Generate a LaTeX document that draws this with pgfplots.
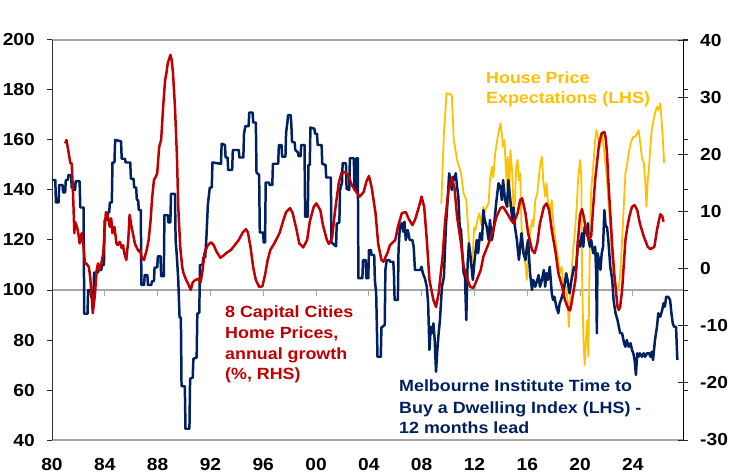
\documentclass[border=0pt]{standalone}
\usepackage{fontspec}
\setmainfont{Liberation Sans}[FakeStretch=1.1]
\usepackage{pgfplots}
\pgfplotsset{compat=1.18}
\definecolor{navy}{HTML}{002060}
\definecolor{cred}{HTML}{C00000}
\definecolor{cyel}{HTML}{FFC000}
\definecolor{gline}{HTML}{A6A6A6}
\begin{document}
\begin{tikzpicture}
% frame and the line at 100 (axis box is 631bp x 400bp at the origin)
\draw[gline, line width=1.3pt] (0,400bp) -- (631bp,400bp);
\draw[gline, line width=1.3pt] (0,0) -- (631bp,0);
\draw[gline, line width=1.3pt] (0,150bp) -- (631bp,150bp);
\foreach \k in {1,...,11} {\draw[gline, line width=1pt] (\k*52.8bp,150bp) -- ++(0,-6bp);}
\begin{axis}[
 scale only axis, width=631bp, height=400bp,
 xmin=1980, xmax=2027.98, ymin=40, ymax=200,
 axis line style={draw=none},
 xtick={1980,1984.015,1988.03,1992.046,1996.061,2000.076,2004.091,2008.106,2012.122,2016.137,2020.152,2024.167},
 xticklabels={\textbf{80},\textbf{84},\textbf{88},\textbf{92},\textbf{96},\textbf{00},\textbf{04},\textbf{08},\textbf{12},\textbf{16},\textbf{20},\textbf{24}},
 x tick style={draw=none},
 xticklabel style={anchor=north, inner sep=0pt, yshift=-13bp},
 ytick={40,60,80,100,120,140,160,180,200},
 yticklabels={\textbf{40},\textbf{60},\textbf{80},\textbf{100},\textbf{120},\textbf{140},\textbf{160},\textbf{180},\textbf{200}},
 y tick style={black!85, line width=1pt},
 tick align=outside, major tick length=5bp,
 yticklabel style={anchor=east, inner sep=0pt, xshift=-12bp},
 ticklabel style={font=\fontsize{17.5}{20}\selectfont\bfseries\boldmath},
]
% House price expectations (LHS)
\addplot[cyel, line width=1.8pt, line join=round] coordinates {
(2009.6,134.5)(2009.8,162.7)(2010.0,178.7)(2010.15,178.5)(2010.4,178)(2010.55,160)(2010.65,157)(2010.8,152)
(2011.1,146.7)(2011.3,138.7)(2011.5,136)(2011.7,120)(2011.85,109)(2012.0,115)(2012.1,125)(2012.2,124)
(2012.35,128)(2012.5,130.7)(2012.65,126)(2012.8,133.3)(2012.9,131)(2013.05,133.3)(2013.2,134.7)(2013.3,144)
(2013.45,149.3)(2013.55,145)(2013.7,154.7)(2013.85,160)(2014.0,164)(2014.1,166.7)(2014.2,162.7)(2014.3,157.3)
(2014.4,160)(2014.5,149.3)(2014.6,141.3)(2014.65,153.3)(2014.75,133.3)(2014.85,156)(2015.0,146.7)(2015.1,130.7)
(2015.2,136)(2015.3,149.3)(2015.4,152)(2015.5,144)(2015.6,146.7)(2015.7,125.3)(2015.85,117.3)(2016.0,110)
(2016.1,104)(2016.2,114.7)(2016.35,122.7)(2016.5,128)(2016.6,125.3)(2016.75,136)(2016.9,138.7)(2017.0,144)
(2017.1,149.3)(2017.25,153.3)(2017.35,144)(2017.5,137.3)(2017.6,142.7)(2017.7,136)(2017.85,130.7)(2018.0,136)
(2018.1,128)(2018.2,122.7)(2018.35,117.3)(2018.5,112)(2018.6,106.7)(2018.75,109.3)(2018.9,101.3)(2019.0,98.7)
(2019.1,101.3)(2019.2,96)(2019.3,85.3)(2019.4,96)(2019.5,106.7)(2019.6,114.7)(2019.75,122.7)(2019.9,133.3)
(2020.0,144)(2020.15,152)(2020.25,145)(2020.3,106.7)(2020.4,81.3)(2020.5,70)(2020.6,80)(2020.7,88)
(2020.78,73.3)(2020.9,120)(2021.0,140)(2021.15,149.3)(2021.3,160)(2021.4,164)(2021.55,160)(2021.7,157.3)
(2021.8,162.7)(2021.9,160)(2022.05,152)(2022.2,144)(2022.3,136)(2022.45,125.3)(2022.6,112)(2022.7,106)
(2022.85,102)(2023.0,100)(2023.1,101)(2023.2,106)(2023.35,120)(2023.5,136)(2023.6,146.7)(2023.7,149.3)
(2023.85,154.7)(2024.0,158.7)(2024.1,160)(2024.2,161.3)(2024.35,161.3)(2024.5,162.7)(2024.6,164)(2024.7,160)
(2024.85,153.3)(2025.0,150.7)(2025.1,144)(2025.2,133.3)(2025.3,144)(2025.4,149.3)(2025.5,157.3)(2025.6,164)
(2025.7,166.7)(2025.85,170.7)(2026.0,173.3)(2026.1,172)(2026.25,174.7)(2026.35,168)(2026.45,160)(2026.55,150.7)
};
% Melbourne Institute index (LHS)
\addplot[navy, line width=2.5pt, line join=round] coordinates {
(1980.0,144)(1980.25,144)(1980.3,135)(1980.5,135)(1980.55,142)(1980.8,142)(1980.85,139)(1981.0,139)
(1981.05,144)(1981.2,144)(1981.25,146)(1981.45,146)(1981.5,141)(1981.75,140)(1981.8,143.5)(1982.1,143.5)
(1982.15,133)(1982.4,133)(1982.45,90.5)(1982.7,90.5)(1982.75,100)(1982.95,100)(1983.0,97)(1983.15,97)
(1983.2,107)(1983.5,107)(1983.55,108)(1983.75,108)(1983.8,110)(1983.95,110)(1984.0,128)(1984.2,128)
(1984.25,131)(1984.35,131)(1984.4,135)(1984.55,135)(1984.6,151)(1984.75,151)(1984.8,160)(1985.25,159.5)
(1985.3,152.5)(1985.55,152.5)(1985.6,151)(1985.95,151)(1986.0,144.5)(1986.2,144.5)(1986.25,141)(1986.4,141)
(1986.45,136)(1986.55,136)(1986.6,132)(1986.75,132)(1986.8,102)(1987.0,102)(1987.05,106)(1987.25,106)
(1987.3,102)(1987.55,102)(1987.6,103.5)(1987.75,103.5)(1987.8,109)(1988.0,109)(1988.05,113.5)(1988.25,113.5)
(1988.3,105.5)(1988.5,105.5)(1988.55,130)(1988.8,130)(1988.85,127)(1989.0,127)(1989.05,138.5)(1989.35,138.5)
(1989.4,120)(1989.5,113)(1989.6,104)(1989.7,89)(1989.8,89)(1989.85,61.5)(1990.1,61.5)(1990.15,44.5)
(1990.45,44.5)(1990.5,64.5)(1990.7,65)(1990.75,72.5)(1991.0,73)(1991.05,90.5)(1991.2,91)(1991.25,110)
(1991.45,110)(1991.5,113)(1991.65,113)(1991.75,122)(1991.85,134)(1992.0,141)(1992.15,141)(1992.2,151)
(1992.85,150.5)(1992.9,158.5)(1993.15,158)(1993.2,153)(1993.35,153)(1993.4,148)(1993.7,148)(1993.75,156)
(1994.2,156)(1994.25,153)(1994.55,153)(1994.6,162.5)(1994.7,165.5)(1994.95,165.5)(1995.0,171)(1995.25,171)
(1995.3,167)(1995.5,167)(1995.55,147)(1995.75,146)(1995.8,123)(1996.05,123)(1996.1,119)(1996.2,119)
(1996.25,143)(1996.5,143)(1996.55,142)(1996.75,142)(1996.8,150.5)(1997.2,150.5)(1997.25,158)(1997.45,158)
(1997.5,153.3)(1997.75,153.3)(1997.8,163)(1997.9,167)(1997.95,170)(1998.15,170)(1998.2,166)(1998.25,159.3)
(1998.45,159)(1998.5,156)(1998.7,155)(1998.75,153.5)(1998.9,153.5)(1998.95,158)(1999.2,158)(1999.25,129.3)
(1999.45,129.3)(1999.5,150)(1999.6,150)(1999.65,165)(1999.95,164.5)(2000.0,162.5)(2000.15,162.5)(2000.2,158)
(2000.5,158)(2000.55,150.5)(2000.8,150)(2000.85,145)(2001.2,145)(2001.25,119)(2001.6,117.5)(2001.65,126.5)
(2001.85,127)(2001.9,140)(2002.05,143)(2002.1,150.7)(2002.35,150.7)(2002.4,140.5)(2002.6,140)(2002.65,152.7)
(2002.95,152.7)(2003.0,140)(2003.1,140)(2003.15,152.7)(2003.25,152.7)(2003.3,104.7)(2003.6,104.7)(2003.65,112)
(2003.85,112)(2003.9,104.7)(2004.05,104.7)(2004.1,116)(2004.25,116)(2004.3,114)(2004.5,114)(2004.55,104)
(2004.65,98.7)(2004.75,73.3)(2005.0,73.3)(2005.05,85)(2005.3,86)(2005.35,108)(2005.45,112)(2005.65,112)
(2005.7,111.3)(2005.95,111.3)(2006.0,106.7)(2006.05,96)(2006.3,96)(2006.35,116)(2006.45,125.3)(2006.6,126.7)
(2006.7,123.3)(2006.8,127.3)(2006.9,120)(2007.05,124)(2007.2,120)(2007.4,120)(2007.5,117.3)(2007.6,108)
(2008.0,108)(2008.1,109.3)(2008.2,106.7)(2008.35,104.7)(2008.5,101.3)(2008.6,94.7)(2008.7,76)(2008.8,85.3)
(2008.9,82.7)(2009.0,86.7)(2009.1,80)(2009.2,67.3)(2009.3,76)(2009.4,82.7)(2009.5,88)(2009.65,101.3)
(2009.8,105.3)(2009.95,125.3)(2010.1,137.3)(2010.2,146.7)(2010.3,144)(2010.4,140)(2010.5,145.3)(2010.6,144)
(2010.7,146.7)(2010.8,141.3)(2010.9,137.3)(2011.0,125.3)(2011.1,124)(2011.2,114.7)(2011.3,106.7)(2011.4,105.3)
(2011.5,88)(2011.6,110)(2011.7,118.7)(2011.8,114.7)(2011.9,109.3)(2012.0,104)(2012.15,113)(2012.3,120)
(2012.4,114.7)(2012.55,122.7)(2012.7,120)(2012.8,132)(2012.9,128)(2013.05,125.3)(2013.2,120)(2013.3,128)
(2013.45,120)(2013.6,125)(2013.7,130.7)(2013.8,136)(2013.95,142.7)(2014.1,141.3)(2014.2,136)(2014.3,144)
(2014.45,136)(2014.6,133.3)(2014.7,144)(2014.85,136)(2015.0,128)(2015.1,133)(2015.2,125.3)(2015.35,120)
(2015.5,112)(2015.6,117.3)(2015.7,122.7)(2015.85,114.7)(2016.0,112)(2016.1,117)(2016.2,120)(2016.35,106.7)
(2016.5,100)(2016.6,104)(2016.75,101.3)(2016.9,104)(2017.0,106)(2017.1,101.3)(2017.25,104)(2017.4,108)
(2017.5,101.3)(2017.6,106.7)(2017.7,104)(2017.85,109.3)(2018.0,98.7)(2018.1,96)(2018.2,97.3)(2018.35,93.3)
(2018.5,90.7)(2018.6,94.7)(2018.7,96)(2018.85,98.7)(2019.0,102.7)(2019.1,106.7)(2019.2,104)(2019.35,98.7)
(2019.5,104)(2019.6,106.7)(2019.7,109.3)(2019.85,108)(2020.0,120)(2020.15,117.3)(2020.3,122.7)(2020.4,117.3)
(2020.5,125.3)(2020.65,122.7)(2020.75,126.7)(2020.8,120)(2020.9,117.3)(2021.0,120)(2021.15,114.7)(2021.3,117.3)
(2021.38,106.7)(2021.43,82.7)(2021.48,114.7)(2021.6,112)(2021.7,108)(2021.8,114.7)(2021.9,117.3)(2022.0,132)
(2022.1,125.3)(2022.2,125.3)(2022.3,120)(2022.45,109.3)(2022.6,104)(2022.7,96)(2022.85,90.7)(2023.0,88)
(2023.1,85.3)(2023.2,82.7)(2023.35,82.7)(2023.5,78.7)(2023.6,77.3)(2023.7,80)(2023.85,77.3)(2024.0,78.7)
(2024.1,76)(2024.2,74.7)(2024.3,72)(2024.4,66)(2024.5,74.7)(2024.6,73.3)(2024.7,74.7)(2024.85,73.3)
(2025.0,74.7)(2025.1,73.3)(2025.25,74.7)(2025.4,74.7)(2025.5,73.3)(2025.6,75.3)(2025.7,72)(2025.85,80)
(2026.0,85.3)(2026.1,90.7)(2026.25,89.3)(2026.4,92)(2026.5,94.7)(2026.6,93.3)(2026.7,97.3)(2026.85,97.3)
(2027.0,96)(2027.1,90.7)(2027.2,86.7)(2027.3,85.3)(2027.45,85.3)(2027.55,72)
};
\end{axis}
\begin{axis}[
 scale only axis, width=631bp, height=400bp,
 xmin=1980, xmax=2027.98, ymin=-30, ymax=40,
 axis x line=none, axis y line*=right,
 y axis line style={-, black, line width=1pt},
 ytick={-30,-20,-10,0,10,20,30,40},
 yticklabels={\textbf{-30},\textbf{-20},\textbf{-10},\textbf{0},\textbf{10},\textbf{20},\textbf{30},\textbf{40}},
 tick align=center, major tick length=10bp,
 y tick style={black!85, line width=1pt},
 yticklabel style={anchor=west, inner sep=0pt, xshift=12bp},
 ticklabel style={font=\fontsize{17.5}{20}\selectfont\bfseries\boldmath},
]
% 8 capital cities home prices annual growth (RHS)
\addplot[cred, line width=2.5pt, line join=round] coordinates {
(1981.0,21.9)(1981.1,22.5)(1981.2,21.2)(1981.4,18.4)(1981.5,18.4)(1981.6,13.2)(1981.7,6.2)(1981.75,8.2)
(1981.9,7.3)(1982.0,6.2)(1982.1,4.4)(1982.25,6.2)(1982.4,3.8)(1982.5,0.9)(1982.6,0.9)(1982.8,0.3)
(1982.9,-1.4)(1983.0,-4.3)(1983.1,-7.8)(1983.25,-4.9)(1983.4,-0.25)(1983.5,0.9)(1983.6,-0.25)(1983.75,0.9)
(1983.9,2.7)(1984.0,6.75)(1984.1,9.9)(1984.25,9.1)(1984.4,7.3)(1984.5,8.8)(1984.6,6.2)(1984.75,7.3)
(1984.9,4.4)(1985.0,4.1)(1985.15,4.7)(1985.3,3.6)(1985.4,4.1)(1985.5,2.7)(1985.65,1.5)(1985.8,5.0)
(1985.9,9.4)(1986.05,7.3)(1986.2,5.6)(1986.3,4.4)(1986.45,3.6)(1986.6,3.0)(1986.7,3.25)(1986.8,2.1)
(1987.0,1.5)(1987.1,2.4)(1987.2,3.25)(1987.35,5.0)(1987.5,8.5)(1987.6,12.0)(1987.75,15.5)(1987.9,16.1)
(1988.0,16.7)(1988.15,21.3)(1988.3,22.5)(1988.45,28.3)(1988.6,33.0)(1988.7,34.2)(1988.8,35.9)(1989.0,37.4)
(1989.1,36.5)(1989.2,34.2)(1989.35,28.3)(1989.5,19.6)(1989.6,10.8)(1989.75,3.8)(1989.9,0.3)(1990.0,-0.8)
(1990.2,-2.0)(1990.4,-2.9)(1990.55,-3.75)(1990.7,-2.4)(1990.9,-2.0)(1991.1,-1.8)(1991.3,-2.4)(1991.45,-0.25)
(1991.6,2.8)(1991.85,4.1)(1992.1,4.6)(1992.3,4.1)(1992.5,3.0)(1992.8,1.9)(1993.0,2.2)(1993.3,2.8)
(1993.6,3.25)(1993.9,4.1)(1994.2,5.0)(1994.5,6.3)(1994.75,6.9)(1994.9,6.3)(1995.1,3.7)(1995.3,0.2)
(1995.5,-2.0)(1995.75,-3.2)(1996.0,-3.1)(1996.2,-1.1)(1996.4,1.5)(1996.6,3.25)(1996.9,4.4)(1997.3,6.2)
(1997.6,8.5)(1997.8,9.9)(1998.1,10.6)(1998.3,9.7)(1998.6,6.75)(1998.8,4.4)(1999.1,3.7)(1999.4,5.0)
(1999.6,8.2)(1999.9,10.8)(2000.1,11.4)(2000.4,10.25)(2000.6,7.6)(2000.9,5.0)(2001.05,4.3)(2001.3,5.4)
(2001.5,9.7)(2001.8,14.9)(2002.0,16.7)(2002.3,16.9)(2002.5,16.4)(2002.8,14.6)(2003.2,13.2)(2003.4,12.6)
(2003.7,13.4)(2003.9,15.2)(2004.1,16.2)(2004.3,14.3)(2004.6,9.7)(2004.8,4.4)(2005.05,1.5)(2005.2,1.2)
(2005.5,2.7)(2005.7,4.1)(2006.1,5.0)(2006.3,7.3)(2006.6,9.7)(2006.9,9.9)(2007.1,8.8)(2007.4,7.6)
(2007.6,8.5)(2007.9,10.8)(2008.1,12.6)(2008.3,10.8)(2008.5,5.0)(2008.7,-2.0)(2009.0,-5.5)(2009.2,-6.7)
(2009.4,-4.3)(2009.7,2.1)(2009.9,8.5)(2010.15,13.75)(2010.4,15.9)(2010.6,14.2)(2010.8,9.1)(2011.1,4.4)
(2011.3,0.3)(2011.6,-2.0)(2011.8,-3.2)(2012.05,-3.4)(2012.3,-2.0)(2012.6,-0.25)(2012.8,2.1)(2013.1,3.8)
(2013.3,5.0)(2013.6,7.3)(2013.8,9.1)(2014.1,10.6)(2014.3,10.8)(2014.6,9.7)(2014.9,8.5)(2015.1,7.9)
(2015.4,9.7)(2015.6,12.0)(2015.75,12.3)(2016.0,9.7)(2016.2,6.2)(2016.5,3.25)(2016.7,2.7)(2016.9,4.4)
(2017.1,7.9)(2017.4,10.8)(2017.6,11.4)(2017.8,10.25)(2018.0,6.75)(2018.3,2.7)(2018.5,-0.8)(2018.8,-3.2)
(2019.0,-5.5)(2019.3,-7.25)(2019.4,-7.3)(2019.5,-6.1)(2019.8,-2.0)(2020.0,5.0)(2020.15,9.4)(2020.3,10.4)
(2020.45,8.9)(2020.6,6.75)(2020.8,5.0)(2021.0,5.7)(2021.15,10.8)(2021.3,15.5)(2021.6,21.9)(2021.8,23.7)
(2022.0,23.9)(2022.1,22.9)(2022.2,20.2)(2022.3,15.5)(2022.45,9.7)(2022.6,3.8)(2022.75,-0.8)(2022.9,-4.3)
(2023.0,-6.7)(2023.1,-7.25)(2023.2,-6.7)(2023.35,-3.75)(2023.5,1.5)(2023.6,5.0)(2023.75,7.3)(2023.9,9.1)
(2024.1,10.8)(2024.3,11.1)(2024.5,10.25)(2024.7,7.9)(2025.0,5.6)(2025.3,3.8)(2025.5,3.4)(2025.8,3.8)
(2026.0,6.75)(2026.25,9.5)(2026.4,9.2)(2026.5,8.2)
};
\end{axis}
\draw[black!80, line width=1pt] (0,0) -- (0,400bp);
\begin{scope}[every node/.style={anchor=base west, inner sep=0pt, font=\fontsize{16.3}{21}\selectfont\bfseries}]
\node[text=cred] at (173bp,122bp) {8 Capital Cities};
\node[text=cred] at (173bp,101bp) {Home Prices,};
\node[text=cred] at (173bp,80.5bp) {annual growth};
\node[text=cred] at (173bp,60bp) {(\%, RHS)};
\node[text=navy] at (347bp,48bp) {Melbourne Institute Time to};
\node[text=navy] at (347bp,27bp) {Buy a Dwelling Index (LHS) -};
\node[text=navy] at (347bp,7bp) {12 months lead};
\node[text=cyel] at (434bp,356bp) {House Price};
\node[text=cyel] at (434bp,336bp) {Expectations (LHS)};
\end{scope}
\pgfresetboundingbox
\path[use as bounding box] (-52bp,-36bp) rectangle (679bp,440bp);
\end{tikzpicture}
\end{document}
